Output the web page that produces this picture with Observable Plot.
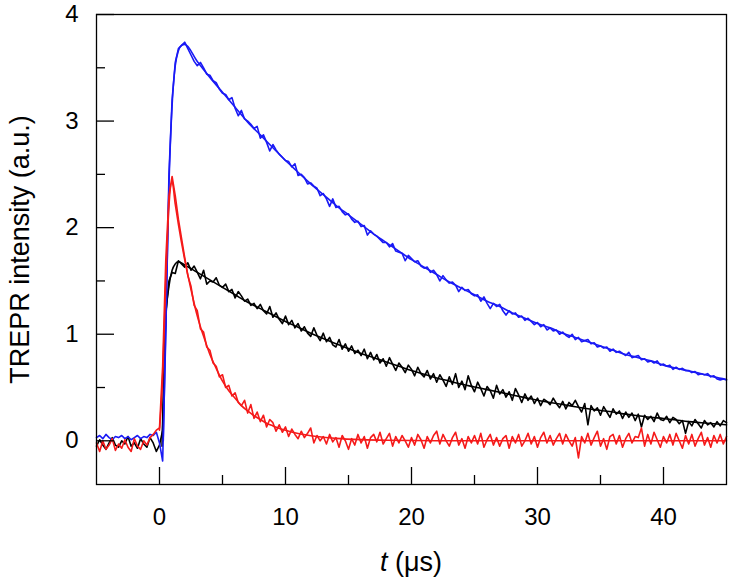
<!DOCTYPE html>
<html>
<head>
<meta charset="utf-8">
<script src="https://cdn.jsdelivr.net/npm/d3@7"></script>
<script src="https://cdn.jsdelivr.net/npm/@observablehq/plot@0.6"></script>
<style>
  html, body { margin: 0; padding: 0; background: #fff; }
  #chart { width: 729px; height: 582px; }
</style>
</head>
<body>
<div id="chart"></div>
<script>
// Sampling grid of the transients: -5 µs to 45 µs, 0.25 µs step (201 points)
const tStart = -5, tStep = 0.25, nPoints = 201;

// Blue transient (data)
const blueData = [
  0.03,0.05,0.02,0.06,0.03,0.01,0.04,0.03,0.05,0.02,0.04,0.01,0.03,0.05,0.02,0.04,0.03,0.06,0.05,0.08,
  -0.02,-0.19,1.0,2.5,3.2,3.55,3.68,3.71,
  3.74,3.68,3.62,3.56, 3.52,3.55,3.50,3.44, 3.43,3.38,3.36,3.30, 3.26,3.25,3.20,3.22,
  3.12,3.05,3.10,3.02, 3.00,2.97,2.93,2.95, 2.84,2.87,2.80,2.72, 2.78,2.73,2.69,2.66,
  2.63,2.62,2.57,2.60, 2.49,2.50,2.47,2.41, 2.42,2.39,2.37,2.30, 2.32,2.27,2.20,2.27,
  2.19,2.20,2.15,2.12, 2.13,2.08,2.05,2.06, 2.01,2.02,1.93,1.97, 1.94,1.92,1.89,1.86,
  1.86,1.82,1.85,1.78, 1.77,1.76,1.69,1.74, 1.71,1.68,1.69,1.64, 1.62,1.63,1.58,1.60,
  1.56,1.50,1.55,1.51, 1.48,1.49,1.46,1.40, 1.44,1.41,1.42,1.38, 1.36,1.37,1.31,1.35,
  1.29,1.24,1.29,1.26, 1.28,1.22,1.18,1.22, 1.19,1.20,1.16,1.17, 1.13,1.15,1.12,1.09,
  1.11,1.07,1.09,1.04, 1.06,1.03,1.04,1.00, 1.02,0.99,0.97,1.00, 0.95,0.97,0.93,0.94,
  0.95,0.91,0.92,0.88, 0.89,0.87,0.88,0.84, 0.86,0.83,0.84,0.82, 0.80,0.83,0.78,0.79,
  0.80,0.76,0.77,0.74, 0.75,0.73,0.75,0.71, 0.72,0.70,0.71,0.67, 0.69,0.67,0.68,0.66,
  0.66,0.64,0.65,0.62, 0.63,0.62,0.63,0.60, 0.61,0.58,0.57,0.58,
  0.57
];

// Black transient (data)
const blackData = [
  -0.05,0.01,-0.04,-0.08,-0.02,0.03,-0.04,-0.06,0.0,-0.03,0.04,-0.05,-0.02,-0.07,0.02,-0.03,-0.06,0.03,-0.02,-0.10,
  -0.04,0.10,1.2,1.5,1.58,1.57,1.69,1.66,
  1.63,1.67,1.60,1.64, 1.58,1.52,1.60,1.47, 1.50,1.49,1.53,1.46, 1.44,1.47,1.40,1.42,
  1.34,1.40,1.36,1.31, 1.33,1.27,1.29,1.24, 1.28,1.22,1.19,1.26, 1.16,1.20,1.14,1.10,
  1.17,1.09,1.13,1.06, 1.10,1.03,1.07,1.01, 0.98,1.06,0.99,0.94, 1.01,0.93,0.97,0.90,
  0.88,0.95,0.86,0.91, 0.84,0.89,0.82,0.85, 0.80,0.86,0.77,0.83, 0.76,0.81,0.73,0.77,
  0.70,0.78,0.72,0.66, 0.73,0.69,0.64,0.71, 0.67,0.61,0.69,0.63, 0.60,0.66,0.58,0.63,
  0.55,0.62,0.57,0.51, 0.60,0.53,0.63,0.50, 0.56,0.48,0.61,0.52, 0.46,0.55,0.49,0.42,
  0.51,0.47,0.40,0.52, 0.44,0.48,0.41,0.46, 0.38,0.49,0.43,0.36, 0.44,0.38,0.42,0.35,
  0.40,0.33,0.39,0.37, 0.34,0.40,0.35,0.31, 0.37,0.30,0.36,0.33, 0.38,0.32,0.27,0.35,
  0.15,0.33,0.28,0.31, 0.24,0.32,0.27,0.22, 0.30,0.25,0.28,0.21, 0.27,0.22,0.26,0.19,
  0.25,0.13,0.24,0.20, 0.23,0.18,0.26,0.20, 0.19,0.23,0.17,0.22, 0.20,0.16,0.19,0.07,
  0.18,0.14,0.20,0.16, 0.12,0.19,0.15,0.17, 0.13,0.18,0.14,0.19,
  0.17
];

// Red transient (data)
const redData = [
  -0.02,-0.10,0.0,-0.08,-0.04,0.02,-0.09,-0.03,-0.07,0.01,-0.06,-0.10,0.02,-0.05,-0.08,0.0,-0.04,0.03,0.06,0.10,
  0.12,0.7,1.7,2.3,2.48,2.3,2.08,1.9,
  1.72,1.55,1.45,1.27, 1.22,1.05,1.02,0.88, 0.85,0.73,0.70,0.60, 0.62,0.50,0.52,0.42,
  0.45,0.36,0.33,0.38, 0.26,0.34,0.21,0.27, 0.18,0.24,0.13,0.20, 0.17,0.09,0.15,0.08,
  0.13,0.04,0.11,0.06, 0.02,0.09,0.03,0.07, 0.12,-0.02,0.05,0.0, 0.04,-0.03,0.06,-0.01,
  0.03,-0.06,0.05,0.0, -0.08,0.02,-0.04,0.06, -0.02,0.04,-0.07,0.03, 0.06,-0.01,0.08,-0.03,
  0.02,0.07,-0.05,0.04, -0.02,0.05,0.0,-0.06, 0.03,-0.04,0.06,0.01, -0.07,0.04,-0.02,0.05,
  0.09,-0.03,0.06,0.0, -0.05,0.03,0.08,-0.04, 0.02,-0.07,0.04,-0.02, 0.05,-0.03,0.07,-0.06,
  0.01,0.06,-0.04,0.03, -0.05,0.02,0.05,-0.07, 0.04,-0.02,0.06,-0.05, 0.0,0.07,-0.03,0.04,
  -0.06,0.03,0.08,-0.02, 0.05,-0.04,0.02,0.07, -0.03,0.06,0.0,-0.05, 0.03,-0.16,0.04,-0.02,
  0.07,-0.04,0.03,0.09, -0.05,0.02,-0.08,0.04, 0.06,-0.03,0.05,-0.06, 0.02,0.07,-0.02,0.04,
  0.03,0.12,-0.05,0.06, -0.03,0.08,0.01,-0.06, 0.04,-0.02,0.06,-0.04, 0.07,0.0,-0.07,0.05,
  -0.03,0.06,-0.05,0.02, 0.08,-0.04,0.03,-0.06, 0.05,-0.02,0.06,-0.03,
  0.04
];

// Fitted curves: [t (µs), intensity]
const blueFit = [[0.3,0],[0.5,1.1],[0.75,2.4],[1,3.15],[1.25,3.52],[1.5,3.66],[1.75,3.71],[2,3.72],
  [3,3.56],[4,3.41],[5,3.27],[6,3.13],[7,2.99],[8,2.87],[9,2.75],[10,2.63],[11,2.52],[12,2.41],
  [13,2.31],[14,2.21],[15,2.12],[16,2.03],[17,1.94],[18,1.86],[19,1.78],[20,1.70],[21,1.63],
  [22,1.56],[23,1.49],[24,1.43],[25,1.37],[26,1.31],[27,1.26],[28,1.20],[29,1.15],[30,1.10],
  [31,1.06],[32,1.01],[33,0.97],[34,0.93],[35,0.89],[36,0.85],[37,0.81],[38,0.78],[39,0.75],
  [40,0.71],[41,0.68],[42,0.655],[43,0.63],[44,0.60],[45,0.575]];
const blackFit = [[0.2,-0.05],[0.5,1.15],[0.75,1.45],[1,1.6],[1.25,1.66],[1.5,1.68],[2,1.65],
  [3,1.58],[4,1.51],[5,1.44],[6,1.37],[7,1.30],[8,1.24],[9,1.18],[10,1.12],[11,1.065],[12,1.01],
  [13,0.96],[14,0.91],[15,0.865],[16,0.82],[17,0.78],[18,0.74],[19,0.70],[20,0.66],[21,0.625],
  [22,0.59],[23,0.56],[24,0.53],[25,0.505],[26,0.48],[27,0.455],[28,0.43],[29,0.405],[30,0.38],
  [31,0.36],[32,0.34],[33,0.32],[34,0.30],[35,0.285],[36,0.27],[37,0.25],[38,0.235],[39,0.22],
  [40,0.21],[41,0.195],[42,0.18],[43,0.17],[44,0.16],[45,0.15]];
const redFit = [[0,0.1],[0.25,0.6],[0.5,1.5],[0.75,2.2],[1,2.43],[1.25,2.22],[1.5,2.03],[2,1.70],
  [2.5,1.42],[3,1.17],[3.5,0.98],[4,0.81],[4.5,0.68],[5,0.56],[5.5,0.47],[6,0.40],[6.5,0.33],
  [7,0.28],[7.5,0.235],[8,0.20],[8.5,0.165],[9,0.14],[10,0.098],[11,0.068],[12,0.048],[13,0.033],
  [14,0.023],[16,0.011],[18,0.005],[22,0.001],[45,0]];

// Axis ticks and labels
const xMajor = [0, 10, 20, 30, 40];
const xMinor = [5, 15, 25, 35];
const yMajor = [0, 1, 2, 3, 4];
const yMinor = [0.5, 1.5, 2.5, 3.5];
const xTitleItalic = "t";
const xTitleRest = " (\u03bcs)";
const yTitle = "TREPR intensity (a.u.)";

const time = d3.range(nPoints).map(i => tStart + i * tStep);
const series = (vals) => time.map((t, i) => ({t, v: vals[i]}));

const BLUE = "#1a1af5", RED = "#f51a1a", BLACK = "#000";
const LW = 1.6;
const TICK_FONT = 24, TITLE_FONT = 27;

const plot = Plot.plot({
  width: 729,
  height: 582,
  marginLeft: 96,
  marginRight: 3,
  marginTop: 14,
  marginBottom: 98,
  style: {fontFamily: "'Liberation Sans', Arial, sans-serif", fontSize: "24px", background: "#fff", color: "#000"},
  x: {domain: [-5, 45], axis: null},
  y: {domain: [-0.41, 4], axis: null},
  marks: [
    Plot.line(series(blackData), {x: "t", y: "v", stroke: BLACK, strokeWidth: LW}),
    Plot.line(blackFit, {x: d => d[0], y: d => d[1], stroke: BLACK, strokeWidth: LW, curve: "monotone-x"}),
    Plot.line(series(blueData), {x: "t", y: "v", stroke: BLUE, strokeWidth: LW}),
    Plot.line(blueFit, {x: d => d[0], y: d => d[1], stroke: BLUE, strokeWidth: LW, curve: "monotone-x"}),
    Plot.line(series(redData), {x: "t", y: "v", stroke: RED, strokeWidth: LW}),
    Plot.line(redFit, {x: d => d[0], y: d => d[1], stroke: RED, strokeWidth: LW, curve: "monotone-x"}),
    Plot.frame({stroke: BLACK, strokeWidth: 1.3}),
    Plot.axisX({ticks: xMajor, tickSize: -17, fill: "none", strokeWidth: 1.3, label: null}),
    Plot.axisX({ticks: xMinor, tickSize: -9, fill: "none", strokeWidth: 1.3, label: null}),
    Plot.axisX({ticks: xMajor, tickSize: 0, tickPadding: 23, stroke: "none", fill: BLACK, fontSize: TICK_FONT, label: null, tickFormat: d => String(d)}),
    Plot.axisY({ticks: yMajor, tickSize: -18, fill: "none", strokeWidth: 1.3, label: null}),
    Plot.axisY({ticks: yMinor, tickSize: -9, fill: "none", strokeWidth: 1.3, label: null}),
    Plot.axisY({ticks: yMajor, tickSize: 0, tickPadding: 18, stroke: "none", fill: BLACK, fontSize: TICK_FONT, label: null, tickFormat: d => String(d)}),
    Plot.text([yTitle], {text: d => d, frameAnchor: "left", textAnchor: "middle", dx: -76, rotate: -90, fontSize: TITLE_FONT, fill: BLACK})
  ]
});

// x-axis title with italic variable name
const svg = d3.select(plot);
const xt = svg.append("text")
  .attr("x", 411)
  .attr("y", 571)
  .attr("text-anchor", "middle")
  .attr("font-size", TITLE_FONT)
  .attr("fill", "#000");
xt.append("tspan").attr("font-style", "italic").text(xTitleItalic);
xt.append("tspan").text(xTitleRest);

document.getElementById("chart").appendChild(plot);
</script>
</body>
</html>
